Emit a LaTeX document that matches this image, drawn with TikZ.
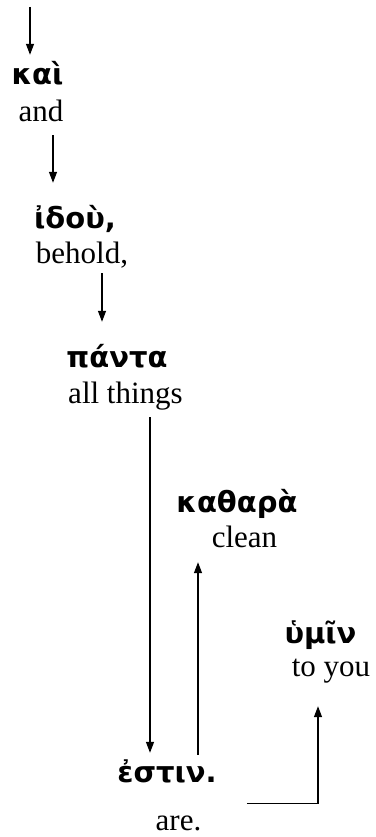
\documentclass[tikz,border=0pt]{standalone}
\usepackage{fontspec}
\setmainfont{Liberation Serif}
\newfontfamily\greekfont{DejaVu Sans Bold}
\usetikzlibrary{arrows.meta}

\tikzset{
 greek/.style={font=\greekfont\fontsize{29}{33}\selectfont, inner sep=0, anchor=base, text height=20pt, text depth=6pt},
 gloss/.style={font=\fontsize{31}{36}\selectfont, inner sep=0, anchor=base, text height=20pt, text depth=7pt},
 arr/.style={line width=1.3pt, -{Triangle[length=11pt,width=8pt]}}
}

\begin{document}
\begin{tikzpicture}[x=1pt, y=-1pt]
\useasboundingbox (0,0) rectangle (375,837);
% words: greek on top, english gloss below
\foreach \nm/\gx/\gy/\gr/\ex/\ey/\en in {kai/37.5/85/καὶ/41/122/and, idou/75/228/{ἰδοὺ,}/82/263/{behold,}, panta/117/367/πάντα/125.5/403/all things, kathara/237/512/καθαρὰ/244.5/547/clean, hymin/320.5/643/ὑμῖν/331/676/to you, estin/167/782/ἐστιν./178.5/830/are.} {
 \node[greek] (\nm) at (\gx,\gy) {\gr};
 \node[gloss] (\nm-e) at (\ex,\ey) {\en};
}
\coordinate (top) at (30,7);
\draw[arr, shorten >=10pt] (top) -- (top |- kai.north);
\draw[arr, shorten <=6pt, shorten >=25pt] ([xshift=12pt]kai-e.south) -- ([xshift=12pt]kai-e.south |- idou.north);
\draw[arr, shorten <=3pt, shorten >=25pt] ([xshift=20pt]idou-e.south) -- ([xshift=20pt]idou-e.south |- panta.north);
\draw[arr, shorten <=7pt, shorten >=9pt] ([xshift=24.5pt]panta-e.south) -- ([xshift=24.5pt]panta-e.south |- estin.north);
\draw[arr, shorten <=7pt, shorten >=8pt] ([xshift=31pt]estin.north) -- ([xshift=31pt]estin.north |- kathara-e.south);
\draw[arr, shorten >=23pt] ([shift={(30pt,-15pt)}]estin.south east) -| ([xshift=-13pt]hymin-e.south);
\end{tikzpicture}
\end{document}
